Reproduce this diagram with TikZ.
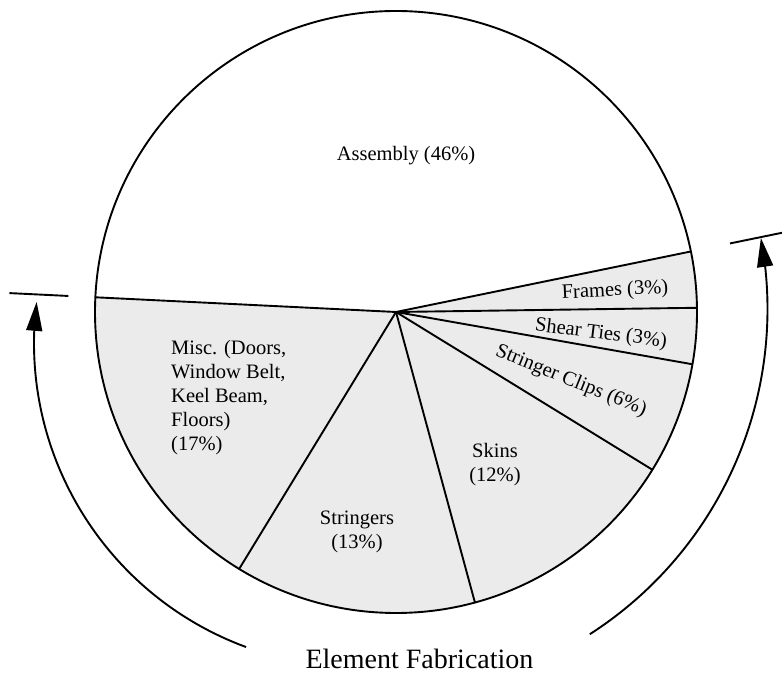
\documentclass[tikz,border=0pt]{standalone}
\usepackage{fontspec}
\setmainfont{Liberation Serif}
\usetikzlibrary{arrows.meta,bending}
\begin{document}
\begin{tikzpicture}[x=1pt,y=1pt,
  edge/.style={line width=1.9pt},
  slice/.style={fill=black!8},
  lbl/.style={inner sep=0pt, font=\fontsize{20.5}{24}\selectfont, align=center},
  span/.style={line width=1.9pt, -{Triangle[length=29pt,width=16pt]}},
]
\useasboundingbox (0,0) rectangle (782,674);
\coordinate (c) at (396,362);
\def\R{301}
% shaded sectors: everything except assembly
\fill[slice] (c) -- ++(11.6:\R) arc[start angle=11.6, end angle=-182.8, radius=\R] -- cycle;
% outline and sector boundaries
\draw[edge] (c) circle[radius=\R];
\foreach \a in {177.2, 11.6, 0.8, -10.0, -31.6, -74.8, -121.4}
  \draw[edge] (c) -- ++(\a:\R);

% sector labels
\node[lbl] (assembly) at (406,518) {Assembly (46\%)};
\node[lbl, rotate=3] (frames) at (615,383) {Frames (3\%)};
\node[lbl, rotate=-7] (shear) at (601,340) {Shear Ties (3\%)};
\node[lbl, rotate=-22] (clips) at (571,293) {Stringer Clips (6\%)};
\node[lbl] (skins) at (495,209) {Skins\\(12\%)};
\node[lbl] (stringers) at (357,142) {Stringers\\(13\%)};
\node[lbl, align=left, anchor=west] (misc) at (171,276.5)
  {Misc. (Doors,\\Window Belt,\\Keel Beam,\\Floors)\\(17\%)};

% extent of element fabrication
\draw[edge] (c) ++(177.2:328) -- ++(177.2:59);
\draw[edge] (c) ++(11.6:341) -- ++(11.6:60);
\coordinate (lc) at (358,331);
\coordinate (rc) at (381,365);
\draw[span] (lc) ++(249.8:324) arc[start angle=249.8, end angle=172.7, radius=324];
\draw[span] (rc) ++(-57.3:386.5) arc[start angle=-57.3, end angle=10.6, radius=386.5];
\node[inner sep=0pt, font=\fontsize{28}{32}\selectfont, anchor=base] (fab) at (419.5,5) {Element Fabrication};
\end{tikzpicture}
\end{document}
